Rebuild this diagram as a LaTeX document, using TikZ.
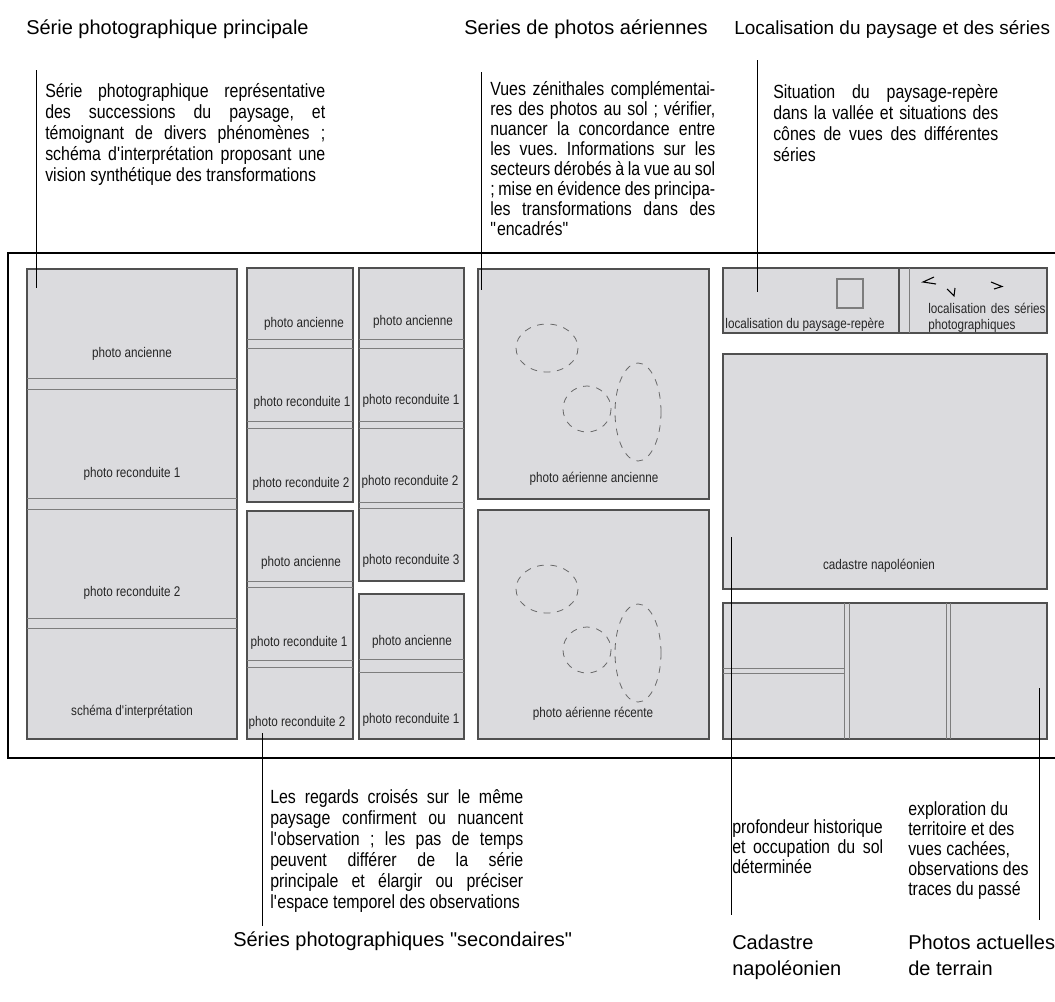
\documentclass[tikz,border=0pt]{standalone}
\usepackage{fontspec}
\setmainfont{Liberation Sans}
\newfontfamily\nf{Liberation Sans}[FakeStretch=0.835]
\definecolor{boxfill}{RGB}{219,219,222}
\definecolor{boxline}{RGB}{80,80,80}
\definecolor{divline}{RGB}{125,125,125}
\definecolor{dashcol}{RGB}{105,105,105}
\newcommand\bw{100pt}
\newcommand\jl[1]{\makebox[\bw][s]{#1}\par}
\newcommand\lline[1]{\makebox[\bw][l]{#1}\par}
\frenchspacing
\begin{document}
\frenchspacing
\begin{tikzpicture}[x=0.75pt,y=-0.75pt,
 photobox/.style={fill=boxfill,draw=boxline,line width=0.9pt},
 divider/.style={draw=divline,line width=0.6pt},
 lbl/.style={font=\nf\fontsize{10.5}{12}\selectfont,inner sep=0pt,anchor=base,text=black!85},
 ttl/.style={font=\fontsize{15}{18}\selectfont,inner sep=0pt,anchor=base west},
 body/.style={font=\nf\fontsize{14.3}{15.75}\selectfont\frenchspacing,inner sep=0pt,anchor=base west,text width=#1,align=justify},
 bodyc/.style={font=\nf\fontsize{14.3}{15}\selectfont\frenchspacing,inner sep=0pt,anchor=base west,text width=#1,align=justify},
 bodyb/.style={font=\nf\fontsize{14.3}{15}\selectfont\frenchspacing,inner sep=0pt,anchor=base west,text width=#1,align=justify},
 ptr/.style={draw=black,line width=0.75pt},
 ell/.style={draw=dashcol,line width=0.6pt,dash pattern=on 5pt off 5pt},
 chev/.style={draw=black,line width=0.8pt}]
\useasboundingbox (0,0) rectangle (1055,1001);
\fill[white] (0,0) rectangle (1055,1001);

% outer frame
\draw[line width=0.8pt] (8,253) rectangle (1062,758);

% main series
\path[photobox] (27,269) rectangle (237,739);
\foreach \y in {378,389,498,509,618,628} \draw[divider] (27,\y) -- (237,\y);
\node[lbl] (m1) at (132,357) {photo ancienne};
\node[lbl] (m2) at (132,477) {photo reconduite 1};
\node[lbl] (m3) at (132,596) {photo reconduite 2};
\node[lbl] (m4) at (132,715) {schéma d\textquotesingle interprétation};

% secondary series, column 2
\path[photobox] (247,268) rectangle (353,502);
\foreach \y in {339,348,421,428} \draw[divider] (247,\y) -- (353,\y);
\node[lbl] (a1) at (304,327) {photo ancienne};
\node[lbl] (a2) at (302,406) {photo reconduite 1};
\node[lbl] (a3) at (301,487) {photo reconduite 2};
\path[photobox] (247,511) rectangle (353,739);
\foreach \y in {581,587,660,667} \draw[divider] (247,\y) -- (353,\y);
\node[lbl] (b1) at (301,566) {photo ancienne};
\node[lbl] (b2) at (299,646) {photo reconduite 1};
\node[lbl] (b3) at (297,726) {photo reconduite 2};

% secondary series, column 3
\path[photobox] (359,268) rectangle (464,581);
\foreach \y in {339,348,421,428,502,508} \draw[divider] (359,\y) -- (464,\y);
\node[lbl] (c1) at (413,325) {photo ancienne};
\node[lbl] (c2) at (411,404) {photo reconduite 1};
\node[lbl] (c3) at (410,485) {photo reconduite 2};
\node[lbl] (c4) at (411,564) {photo reconduite 3};
\path[photobox] (359,594) rectangle (464,739);
\foreach \y in {659,672} \draw[divider] (359,\y) -- (464,\y);
\node[lbl] (d1) at (412,645) {photo ancienne};
\node[lbl] (d2) at (411,723) {photo reconduite 1};

% aerial photos
\path[photobox] (478,269) rectangle (709,499);
\path[photobox] (478,510) rectangle (709,739);
\foreach \dy in {0,241}{
  \begin{scope}[shift={(0,\dy)}]
    \draw[ell] (547,348) ellipse [x radius=31, y radius=24];
    \draw[ell] (587,409) ellipse [x radius=24, y radius=23];
    \draw[ell] (638,412) ellipse [x radius=23, y radius=49];
  \end{scope}}
\node[lbl] (e1) at (594,482) {photo aérienne ancienne};
\node[lbl] (e2) at (593,717) {photo aérienne récente};

% localisation
\path[photobox] (723,268) rectangle (1047,333);
\draw[draw=boxline,line width=0.8pt] (899,268) -- (899,333);
\draw[divider] (909,268) -- (909,333);
\draw[draw=divline,line width=0.8pt] (837,279) rectangle (863,308);
\node[lbl] (f1) at (805,328) {localisation du paysage-repère};
\node[lbl,anchor=base west,align=left,text width=90pt] (f2) at (928,313) {localisation des séries\\photographiques};
\draw[chev] (934,277) -- (923,282) -- (936,284);
\draw[chev] (947,289) -- (954,296) -- (955,288);
\draw[chev] (991,282) -- (1002,286.5) -- (994,289);

% cadastre
\path[photobox] (723,354) rectangle (1047,589);
\node[lbl] (g1) at (879,569) {cadastre napoléonien};

% current photos
\path[photobox] (723,603) rectangle (1047,739);
\foreach \x in {844,849,946,950} \draw[divider] (\x,603) -- (\x,739);
\foreach \y in {668,673} \draw[divider] (723,\y) -- (844,\y);

% titles
\node[ttl] (t1) at (26,34) {Série photographique principale};
\node[ttl] (t2) at (464,34) {Series de photos aériennes};
\node[ttl,font=\fontsize{14.2}{18}\selectfont] (t3) at (734,34) {Localisation du paysage et des séries};
\node[ttl] (t4) at (233,946) {Séries photographiques \textquotedbl secondaires\textquotedbl};
\node[ttl] (t5) at (732,949) {Cadastre};
\node[ttl] (t5b) at (732,975) {napoléonien};
\node[ttl] (t6) at (908,949) {Photos actuelles};
\node[ttl] (t6b) at (908,975) {de terrain};

% text blocks
\node[body=210pt] (x1) at (45,97) {\renewcommand\bw{210pt}%
\jl{Série photographique représentative}
\jl{des successions du paysage, et}
\jl{témoignant de divers phénomènes ;}
\jl{schéma d\textquotesingle interprétation proposant une}
\lline{vision synthétique des transformations}};

\node[bodyc=168.75pt] (x2) at (490,95) {\renewcommand\bw{168.75pt}%
\jl{Vues zénithales complémentai-}
\jl{res des photos au sol ; vérifier,}
\jl{nuancer la concordance entre}
\jl{les vues. Informations sur les}
\jl{secteurs dérobés à la vue au sol}
\jl{; mise en évidence des principa-}
\jl{les transformations dans des}
\lline{\textquotedbl encadrés\textquotedbl}};

\node[body=168.75pt] (x3) at (773,98) {\renewcommand\bw{168.75pt}%
\jl{Situation du paysage-repère}
\jl{dans la vallée et situations des}
\jl{cônes de vues des différentes}
\lline{séries}};

\node[body=189.75pt] (x4) at (270,803) {\renewcommand\bw{189.75pt}%
\jl{Les regards croisés sur le même}
\jl{paysage confirment ou nuancent}
\jl{l\textquotesingle observation ; les pas de temps}
\jl{peuvent différer de la série}
\jl{principale et élargir ou préciser}
\lline{l\textquotesingle espace temporel des observations}};

\node[bodyb=113.25pt] (x5) at (732,833) {\renewcommand\bw{113.25pt}%
\lline{profondeur historique}
\jl{et occupation du sol}
\lline{déterminée}};

\node[bodyb=120pt] (x6) at (908,815) {\renewcommand\bw{120pt}%
\lline{exploration du}
\lline{territoire et des}
\lline{vues cachées,}
\lline{observations des}
\lline{traces du passé}};

% pointer lines
\coordinate (p1a) at (36,70);   \coordinate (p1b) at (36,288);
\coordinate (p2a) at (481,72);  \coordinate (p2b) at (481,290);
\coordinate (p3a) at (757,60);  \coordinate (p3b) at (757,292);
\coordinate (p4a) at (262,733); \coordinate (p4b) at (262,926);
\coordinate (p5a) at (731,537); \coordinate (p5b) at (731,915);
\coordinate (p6a) at (1039,688);\coordinate (p6b) at (1039,920);
\draw[ptr] (p1a) -- (p1b);
\draw[ptr] (p2a) -- (p2b);
\draw[ptr] (p3a) -- (p3b);
\draw[ptr] (p4a) -- (p4b);
\draw[ptr] (p5a) -- (p5b);
\draw[ptr] (p6a) -- (p6b);
\end{tikzpicture}
\end{document}
